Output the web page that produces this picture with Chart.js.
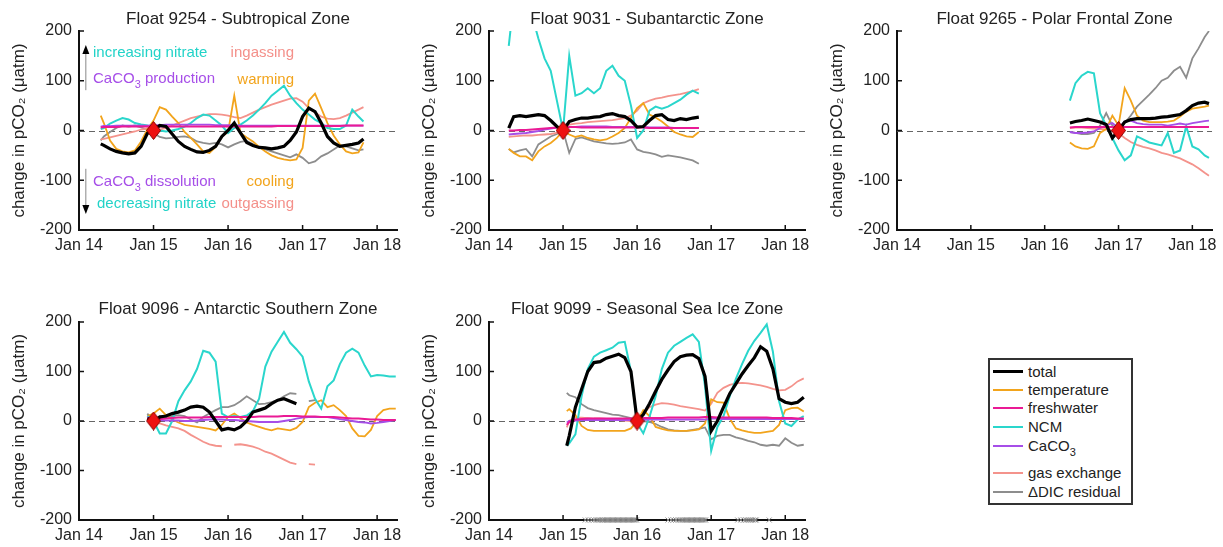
<!DOCTYPE html>
<html>
<head>
<meta charset="utf-8">
<title>pCO2 change by float</title>
<script src="https://cdn.jsdelivr.net/npm/chart.js@4.4.1/dist/chart.umd.min.js"></script>
<style>
  body { margin: 0; background: #fff; }
  #page { position: relative; width: 1223px; height: 547px; overflow: hidden; font-family: "Liberation Sans", Arial, sans-serif; color: #222; }
  #page canvas { position: absolute; }
  .note { position: absolute; font-size: 15px; line-height: 18px; white-space: nowrap; z-index: 2; }
  .note sub, .row sub { font-size: 11px; vertical-align: -5px; line-height: 0; }
  #legend { position: absolute; left: 988px; top: 358px; width: 141px; height: 143px; border: 2px solid #333; z-index: 2; background: #fff; }
  .row { position: absolute; left: 0; width: 140px; height: 18px; font-size: 15px; line-height: 18px; white-space: nowrap; }
  .row i { position: absolute; left: 3px; top: 8px; width: 30px; height: 2px; }
  .row span { position: absolute; left: 38px; top: 0; }
</style>
</head>
<body>
<div id="page">
  <canvas id="c9254" width="410" height="262" style="left:0;top:0"></canvas>
  <canvas id="c9031" width="410" height="262" style="left:410px;top:0"></canvas>
  <canvas id="c9265" width="405" height="262" style="left:818px;top:0"></canvas>
  <canvas id="c9096" width="410" height="257" style="left:0;top:290px"></canvas>
  <canvas id="c9099" width="410" height="257" style="left:410px;top:290px"></canvas>

  <div class="note" style="left:93px;top:43px;color:#22d3c8">increasing nitrate</div>
  <div class="note" style="right:929px;top:43px;color:#f4908a">ingassing</div>
  <div class="note" style="left:93px;top:69px;color:#a64ee8">CaCO<sub>3</sub> production</div>
  <div class="note" style="right:929px;top:70px;color:#f2a41c">warming</div>
  <div class="note" style="left:93px;top:172px;color:#a64ee8">CaCO<sub>3</sub> dissolution</div>
  <div class="note" style="right:929px;top:172px;color:#f2a41c">cooling</div>
  <div class="note" style="left:97px;top:194px;color:#22d3c8">decreasing nitrate</div>
  <div class="note" style="right:929px;top:194px;color:#f4908a">outgassing</div>

  <div id="legend">
    <div class="row" style="top:3px"><i style="background:#000;height:3px;top:7px"></i><span>total</span></div>
    <div class="row" style="top:21px"><i style="background:#f2a41c"></i><span>temperature</span></div>
    <div class="row" style="top:39px"><i style="background:#ea1a95"></i><span>freshwater</span></div>
    <div class="row" style="top:58px"><i style="background:#2ad6cc"></i><span>NCM</span></div>
    <div class="row" style="top:77px"><i style="background:#a64ee8"></i><span>CaCO<sub>3</sub></span></div>
    <div class="row" style="top:104px"><i style="background:#f4938c"></i><span>gas exchange</span></div>
    <div class="row" style="top:123px"><i style="background:#8d8d8d"></i><span>&Delta;DIC residual</span></div>
  </div>
</div>

<script>
Chart.defaults.font.family = "'Liberation Sans', Arial, sans-serif";
Chart.defaults.color = '#222';

// axes: x in months since Jan 2014
const xTickMonths = [0, 12, 24, 36, 48];
const xTickLabels = ['Jan 14', 'Jan 15', 'Jan 16', 'Jan 17', 'Jan 18'];
const yTicks = [-200, -100, 0, 100, 200];

// Float 9254 - Subtropical
const t9254 = [3.5, 4, 5, 6, 7, 8, 9, 10, 11, 12, 13, 14, 15, 16, 17, 18, 19, 20, 21, 22, 23, 24, 25, 26, 27, 28, 29, 30, 31, 32, 33, 34, 35, 36, 37, 38, 39, 40, 41, 42, 43, 44, 45, 45.8];
const total9254 = [-27, -30, -37, -42, -45, -47, -45, -32, -6, 0, 10, 8, -7, -22, -32, -38, -43, -44, -40, -32, -12, 0, 15, -5, -24, -30, -34, -35, -37, -35, -32, -20, -3, 28, 45, 38, 15, -12, -25, -32, -30, -28, -25, -17];
const temp9254 = [30, 15, -20, -37, -42, -44, -40, -22, 2, 20, 47, 42, 28, 15, -3, -15, -28, -42, -45, -33, -12, -3, 70, -5, -14, -22, -33, -42, -50, -55, -58, -60, -58, -35, 60, 74, 45, 15, -10, -28, -42, -46, -44, -24];
const fresh9254 = [6, 7, 7, 7, 8, 8, 8, 8, 8, 8, 8, 8, 8, 8, 8, 8, 8, 8, 8, 8, 8, 8, 8, 8, 8, 8, 8, 8, 8, 9, 9, 9, 9, 9, 9, 9, 9, 9, 9, 9, 10, 10, 10, 10];
const ncm9254 = [3, 5, 14, 20, 25, 22, 15, 12, 10, 5, 0, -2, 0, 3, 8, 15, 25, 32, 30, 20, 10, -5, 5, 12, 20, 30, 42, 55, 70, 80, 90, 70, 55, 42, 32, 22, 15, 5, 3, 3, 10, 42, 28, 18];
const caco3_9254 = [8, 9, 9, 10, 10, 10, 10, 10, 10, 11, 11, 12, 12, 12, 12, 12, 12, 12, 12, 11, 11, 11, 11, 10, 10, 10, 10, 10, 10, 10, 10, 10, 10, 10, 10, 10, 10, 10, 10, 10, 10, 10, 10, 10];
const gas9254 = [-18, -17, -14, -11, -8, -5, -2, 2, 4, 2, 2, 5, 10, 15, 20, 25, 28, 31, 33, 33, 32, 30, 27, 25, 30, 36, 42, 47, 52, 56, 60, 64, 65, 58, 45, 36, 28, 24, 23, 25, 30, 36, 42, 47];
const resid9254 = [-20, -12, -3, 5, 10, 8, 10, 6, 2, -5, -13, -16, -15, -13, -12, -15, -22, -25, -27, -25, -28, -34, -28, -23, -21, -27, -34, -38, -42, -46, -50, -54, -48, -55, -66, -62, -52, -46, -38, -30, -32, -36, -40, -38];

// Float 9031 - Subantarctic
const t9031 = [3.2, 4, 5, 6, 7, 8, 9, 10, 11, 12, 13, 14, 15, 16, 17, 18, 19, 20, 21, 22, 23, 24, 25, 26, 27, 28, 29, 30, 31, 32, 33, 34];
const total9031 = [5, 28, 30, 28, 30, 32, 30, 20, 8, 0, 18, 22, 25, 25, 27, 28, 32, 34, 30, 28, 20, 7, 8, 20, 30, 32, 22, 20, 24, 22, 25, 27];
const temp9031 = [-37, -45, -52, -52, -60, -42, -32, -25, -15, 0, -8, -13, -10, -15, -18, -20, -18, -12, -5, 5, 25, 45, 55, 32, 26, 18, 8, -3, -8, -12, -13, -3];
const fresh9031 = [0, 0, 1, 1, 2, 3, 4, 5, 6, 6, 7, 7, 6, 6, 6, 6, 6, 6, 6, 6, 6, 6, 6, 5, 5, 5, 5, 5, 5, 5, 5, 5];
const ncm9031 = [170, 260, 260, 260, 230, 185, 145, 120, 60, 0, 150, 70, 75, 85, 75, 85, 120, 130, 110, 100, 50, -15, 0, 40, 48, 44, 48, 55, 62, 72, 80, 74];
const caco3_9031 = [-8, -7, -6, -5, -3, -1, 2, 4, 6, 7, 7, 7, 8, 8, 8, 8, 8, 7, 7, 7, 7, 7, 7, 6, 6, 6, 6, 5, 5, 5, 5, 5];
const gas9031 = [-13, -12, -11, -10, -10, -9, -8, -7, -5, 0, 12, 14, 15, 17, 18, 19, 20, 21, 23, 25, 30, 40, 55, 60, 64, 66, 69, 71, 73, 76, 79, 83];
const resid9031 = [-37, -44, -40, -37, -52, -28, -20, -12, -7, 0, -45, -17, -14, -18, -22, -24, -26, -27, -26, -24, -18, -38, -43, -45, -48, -53, -50, -52, -54, -57, -60, -67];

// Float 9265 - Polar Frontal
const t9265 = [28.1, 29, 30, 31, 32, 33, 34, 35, 36, 37, 38, 39, 40, 41, 42, 43, 44, 45, 46, 47, 48, 49, 50, 50.7];
const total9265 = [15, 18, 20, 23, 20, 17, 12, -15, 0, 17, 22, 24, 24, 24, 25, 27, 28, 30, 32, 40, 50, 55, 57, 54];
const temp9265 = [-24, -32, -36, -37, -32, -5, 3, 30, 10, 85, 60, 30, 20, 17, 17, 17, 18, 20, 28, 38, 44, 46, 48, 50];
const fresh9265 = [6, 7, 7, 7, 7, 7, 7, 7, 7, 7, 7, 7, 7, 7, 7, 7, 7, 7, 7, 7, 7, 7, 7, 7];
const ncm9265 = [60, 95, 110, 118, 115, 35, 10, -15, -40, -60, -50, -12, -18, -24, -27, -30, -5, -45, -40, 8, -32, -38, -50, -55];
const caco3_9265 = [-3, -5, -5, -4, -2, 5, 10, 15, 5, 18, 20, 15, 13, 12, 12, 12, 10, 12, 14, 12, 15, 17, 19, 20];
const gas9265 = [5, 6, 6, 5, 4, 3, 2, 0, -5, -15, -23, -29, -33, -36, -40, -45, -48, -52, -56, -62, -68, -76, -85, -91];
const resid9265 = [-3, -5, -7, -7, -5, 10, 35, 10, 0, 15, 30, 48, 60, 72, 85, 100, 106, 120, 128, 106, 145, 165, 188, 200];

// Float 9096 - Antarctic Southern
const t9096 = [11, 12, 13, 14, 15, 16, 17, 18, 19, 20, 21, 22, 23, 24, 25, 26, 27, 28, 29, 30, 31, 32, 33, 34, 35, 36, 37, 38, 39, 40, 41, 42, 43, 44, 45, 46, 47, 48, 49, 50, 51];
const total9096 = [5, 0, 8, 10, 15, 18, 22, 28, 30, 28, 18, 0, -18, -15, -18, -12, 0, 18, 22, 26, 35, 42, 45, 40, 35, null, null, null, null, null, null, null, null, null, null, null, null, null, null, null, null];
const temp9096 = [10, 15, 25, 12, 3, -3, -8, -10, -12, -14, -16, -19, -8, 8, 15, 6, -3, -8, -12, -16, -19, -15, -17, -19, -14, -2, 28, 37, 42, 28, 32, 22, 10, -15, -30, -31, -18, 10, 22, 25, 25];
const fresh9096 = [5, 3, 4, 5, 6, 7, 7, 7, 7, 7, 8, 8, 8, 8, 8, 8, 8, 8, 9, 9, 9, 9, 10, 10, 10, 9, 9, 9, 8, 8, 8, 7, 6, 5, 5, 4, 3, 3, 2, 2, 2];
const ncm9096 = [10, 0, -25, -25, 0, 40, 62, 80, 105, 142, 138, 120, 15, 8, 10, 8, 11, 20, 45, 110, 140, 160, 180, 158, 145, 130, 80, 45, 25, 70, 82, 115, 138, 146, 138, 112, 90, 93, 92, 90, 90];
const caco3_9096 = [8, 2, 2, 1, 1, 1, 0, 0, 1, 2, 3, 3, 3, 2, 2, 1, 0, -1, -2, -2, -2, -2, 0, 2, 5, 7, 8, 8, 8, 8, 6, 4, 2, 0, -2, -3, -5, -4, -2, 0, 2];
const gas9096 = [null, 0, -5, -9, -12, -15, -20, -28, -35, -42, -47, -50, -51, null, -48, -47, -49, -52, -56, -62, -66, -72, -78, -84, -87, null, -87, -88, null, null, null, null, null, null, null, null, null, null, null, null, null];
const resid9096 = [15, 0, 10, 8, 10, 12, 10, 3, -3, 8, 15, 22, 28, 28, 32, 40, 50, 42, 34, 35, 38, 42, 50, 56, 55, null, 40, 42, null, null, null, null, null, null, null, null, null, null, null, null, null];

// Float 9099 - Seasonal Sea Ice
const t9099 = [12.6, 13, 14, 15, 16, 17, 18, 19, 20, 21, 22, 23, 24, 25, 26, 27, 28, 29, 30, 31, 32, 33, 34, 35, 36, 37, 38, 39, 40, 41, 42, 43, 44, 45, 46, 47, 48, 49, 50, 51];
const total9099 = [-50, -30, 28, 64, 100, 118, 120, 127, 131, 135, 128, 100, 0, 13, 35, 60, 84, 103, 120, 130, 133, 134, 126, 90, -20, 0, 28, 55, 75, 95, 112, 128, 150, 141, 105, 45, 38, 35, 38, 48];
const temp9099 = [20, 24, 12, -10, -18, -20, -20, -20, -20, -20, -20, -15, 0, 22, 10, -12, -16, -19, -20, -20, -20, -19, -17, -5, 44, 38, 37, 5, -15, -19, -22, -24, -24, -22, -20, -8, 22, 26, 27, 19];
const fresh9099 = [-8, -2, 3, 4, 5, 5, 5, 5, 5, 5, 5, 5, 5, 6, 6, 6, 6, 7, 7, 7, 7, 7, 7, 8, 8, 7, 7, 7, 7, 7, 7, 7, 7, 7, 6, 6, 6, 6, 5, 5];
const ncm9099 = [-50, -45, -27, 50, 105, 130, 138, 143, 148, 158, 160, 100, -5, -25, 8, 50, 105, 138, 152, 160, 168, 175, 160, 70, -60, -12, 10, 50, 85, 115, 142, 162, 178, 195, 140, 40, -5, -10, 3, 10];
const caco3_9099 = [-3, 0, 1, 2, 2, 2, 2, 2, 2, 2, 2, 2, 2, 3, 3, 3, 3, 3, 3, 3, 3, 3, 3, 3, 5, 5, 4, 4, 4, 4, 4, 4, 4, 4, 4, 4, 4, 4, 4, 4];
const gas9099 = [-13, 0, 7, 7, 6, 5, 5, 4, 3, 2, 1, 0, 0, 15, 28, 33, 36, 35, 33, 30, 28, 26, 24, 21, 35, 57, 67, 73, 76, 77, 76, 74, 72, 69, 65, 62, 63, 70, 80, 86];
const resid9099 = [57, 52, 48, 34, 26, 22, 19, 16, 13, 12, 9, 6, 0, 0, -2, -6, -12, -17, -19, -20, -20, -18, -16, -13, -37, -30, -28, -28, -33, -36, -40, -43, -48, -50, -48, -50, -35, -44, -50, -48];
// sea-ice profile dates (months) marked along the bottom axis
const ice9099 = [15.6, 16.1, 16.6, 17.0, 17.4, 17.7, 18.0, 18.3, 18.5, 18.7, 18.9, 19.1, 19.3, 19.5, 19.7, 19.9, 20.1, 20.3, 20.5, 20.7, 20.9, 21.1, 21.3, 21.5, 21.7, 21.9, 22.1, 22.3, 22.5, 22.7, 22.9, 23.1, 23.3, 23.5, 23.7, 23.9,
  29.0, 29.5, 29.9, 30.3, 30.7, 31.0, 31.3, 31.5, 31.7, 31.9, 32.1, 32.3, 32.5, 32.7, 32.9, 33.1, 33.3, 33.5, 33.7, 33.9, 34.1, 34.3, 34.5, 34.7, 34.9, 35.1,
  40.3, 40.8, 41.3, 41.6, 41.9, 42.2, 42.5, 42.8, 43.1, 43.3, 45.4];

const colors = {
  total: '#000000', temp: '#f2a41c', fresh: '#ea1a95', ncm: '#2ad6cc',
  caco3: '#a64ee8', gas: '#f4938c', resid: '#8d8d8d'
};

// red reference diamond
const diamond = document.createElement('canvas');
diamond.width = 15; diamond.height = 19;
(function () {
  const g = diamond.getContext('2d');
  g.beginPath();
  g.moveTo(7.5, 0.5); g.lineTo(14.5, 9.5); g.lineTo(7.5, 18.5); g.lineTo(0.5, 9.5); g.closePath();
  g.fillStyle = '#ee1111'; g.fill();
  g.strokeStyle = '#8a0000'; g.lineWidth = 1; g.stroke();
})();

function pts(t, v) {
  return t.map((x, i) => ({ x: x, y: v[i] }));
}

function line(t, v, color, width, order) {
  return {
    type: 'line', data: pts(t, v), borderColor: color, borderWidth: width,
    pointRadius: 0, tension: 0, spanGaps: false, fill: false, order: order
  };
}

const zeroLine = {
  id: 'zeroLine',
  beforeDatasetsDraw(chart) {
    const { ctx, chartArea: a, scales: { y } } = chart;
    const py = Math.round(y.getPixelForValue(0)) + 0.5;
    ctx.save();
    ctx.strokeStyle = '#666';
    ctx.lineWidth = 1;
    ctx.setLineDash([6, 4]);
    ctx.beginPath(); ctx.moveTo(a.left, py); ctx.lineTo(a.right, py); ctx.stroke();
    ctx.restore();
  }
};

// matlab style ticks pointing into the plot
const inTicks = {
  id: 'inTicks',
  afterDraw(chart) {
    const { ctx, chartArea: a, scales: { x, y } } = chart;
    ctx.save();
    ctx.strokeStyle = '#111';
    ctx.lineWidth = 1.5;
    xTickMonths.forEach(v => {
      const px = x.getPixelForValue(v);
      ctx.beginPath(); ctx.moveTo(px, a.bottom); ctx.lineTo(px, a.bottom - 5); ctx.stroke();
    });
    yTicks.forEach(v => {
      const py = y.getPixelForValue(v);
      ctx.beginPath(); ctx.moveTo(a.left, py); ctx.lineTo(a.left + 5, py); ctx.stroke();
    });
    ctx.restore();
  }
};

const panelTitle = {
  id: 'panelTitle',
  afterDraw(chart, args, opts) {
    const { ctx, chartArea: a } = chart;
    ctx.save();
    ctx.font = "17px 'Liberation Sans', Arial, sans-serif";
    ctx.fillStyle = '#222';
    ctx.textAlign = 'center';
    ctx.textBaseline = 'middle';
    ctx.fillText(opts.text, (a.left + a.right) / 2, opts.y);
    ctx.restore();
  }
};

// up / down arrows next to the notes of the first panel
const arrows = {
  id: 'arrows',
  afterDatasetsDraw(chart, args, opts) {
    if (!opts.show) return;
    const { ctx, scales: { x, y } } = chart;
    const px = x.getPixelForValue(1.1);
    [[81, 172], [-77, -168]].forEach(([from, to]) => {
      const y0 = y.getPixelForValue(from), y1 = y.getPixelForValue(to);
      const dir = y1 < y0 ? 1 : -1;
      ctx.save();
      ctx.strokeStyle = '#888'; ctx.lineWidth = 1;
      ctx.beginPath(); ctx.moveTo(px, y0); ctx.lineTo(px, y1 + dir * 6); ctx.stroke();
      ctx.fillStyle = '#000';
      ctx.beginPath();
      ctx.moveTo(px, y1); ctx.lineTo(px - 3.5, y1 + dir * 9); ctx.lineTo(px + 3.5, y1 + dir * 9); ctx.closePath();
      ctx.fill();
      ctx.restore();
    });
  }
};

function makePanel(p) {
  const datasets = [
    { type: 'scatter', data: [{ x: p.ref, y: 0 }], pointStyle: diamond, pointRadius: 9, order: 0 },
    line(p.t, p.total, colors.total, 3.2, 2),
    line(p.t, p.fresh, colors.fresh, 2, 3),
    line(p.t, p.caco3, colors.caco3, 1.8, 4),
    line(p.t, p.ncm, colors.ncm, 2, 5),
    line(p.t, p.temp, colors.temp, 1.8, 6),
    line(p.t, p.gas, colors.gas, 1.8, 7),
    line(p.t, p.resid, colors.resid, 1.8, 8)
  ];
  if (p.ice) {
    datasets.push({
      type: 'scatter', data: p.ice.map(m => ({ x: m, y: -200 })), pointStyle: 'crossRot',
      pointRadius: 3.5, borderColor: '#8a8a8a', borderWidth: 1, clip: false, order: 1
    });
  }
  new Chart(document.getElementById(p.id), {
    type: 'line',
    data: { datasets: datasets },
    options: {
      responsive: false, animation: false, devicePixelRatio: 1,
      layout: { padding: { left: 0, top: p.top, right: p.right, bottom: 0 } },
      plugins: {
        legend: { display: false }, tooltip: { enabled: false },
        panelTitle: { text: p.title, y: 19 },
        arrows: { show: !!p.arrows }
      },
      scales: {
        x: {
          type: 'linear', min: 0, max: 51.2,
          afterBuildTicks: s => { s.ticks = xTickMonths.map(v => ({ value: v })); },
          afterFit: s => { s.height = p.xh; },
          grid: { display: false, drawTicks: false },
          border: { display: true, color: '#111', width: 2 },
          ticks: { padding: 6, autoSkip: false, maxRotation: 0, color: '#222', font: { size: 16 },
                   callback: (v, i) => xTickLabels[i] }
        },
        y: {
          min: -200, max: 200,
          afterBuildTicks: s => { s.ticks = yTicks.map(v => ({ value: v })); },
          afterFit: s => { s.width = 79; },
          grid: { display: false, drawTicks: false },
          border: { display: true, color: '#111', width: 2 },
          ticks: { padding: 7, color: '#222', font: { size: 16 } },
          title: { display: true, text: 'change in pCO\u2082 (\u03bcatm)', color: '#222',
                   font: { size: 17 }, padding: { top: 9, bottom: 0 } }
        }
      }
    },
    plugins: [zeroLine, inTicks, panelTitle, arrows]
  });
}

makePanel({ id: 'c9254', title: 'Float 9254 - Subtropical Zone', ref: 12, top: 31, right: 13, xh: 32, arrows: true,
  t: t9254, total: total9254, temp: temp9254, fresh: fresh9254, ncm: ncm9254, caco3: caco3_9254, gas: gas9254, resid: resid9254 });
makePanel({ id: 'c9031', title: 'Float 9031 - Subantarctic Zone', ref: 12, top: 31, right: 15, xh: 32,
  t: t9031, total: total9031, temp: temp9031, fresh: fresh9031, ncm: ncm9031, caco3: caco3_9031, gas: gas9031, resid: resid9031 });
makePanel({ id: 'c9265', title: 'Float 9265 - Polar Frontal Zone', ref: 36, top: 31, right: 10, xh: 32,
  t: t9265, total: total9265, temp: temp9265, fresh: fresh9265, ncm: ncm9265, caco3: caco3_9265, gas: gas9265, resid: resid9265 });
makePanel({ id: 'c9096', title: 'Float 9096 - Antarctic Southern Zone', ref: 12, top: 32, right: 13, xh: 27,
  t: t9096, total: total9096, temp: temp9096, fresh: fresh9096, ncm: ncm9096, caco3: caco3_9096, gas: gas9096, resid: resid9096 });
makePanel({ id: 'c9099', title: 'Float 9099 - Seasonal Sea Ice Zone', ref: 24, top: 32, right: 15, xh: 27, ice: ice9099,
  t: t9099, total: total9099, temp: temp9099, fresh: fresh9099, ncm: ncm9099, caco3: caco3_9099, gas: gas9099, resid: resid9099 });
</script>
</body>
</html>
